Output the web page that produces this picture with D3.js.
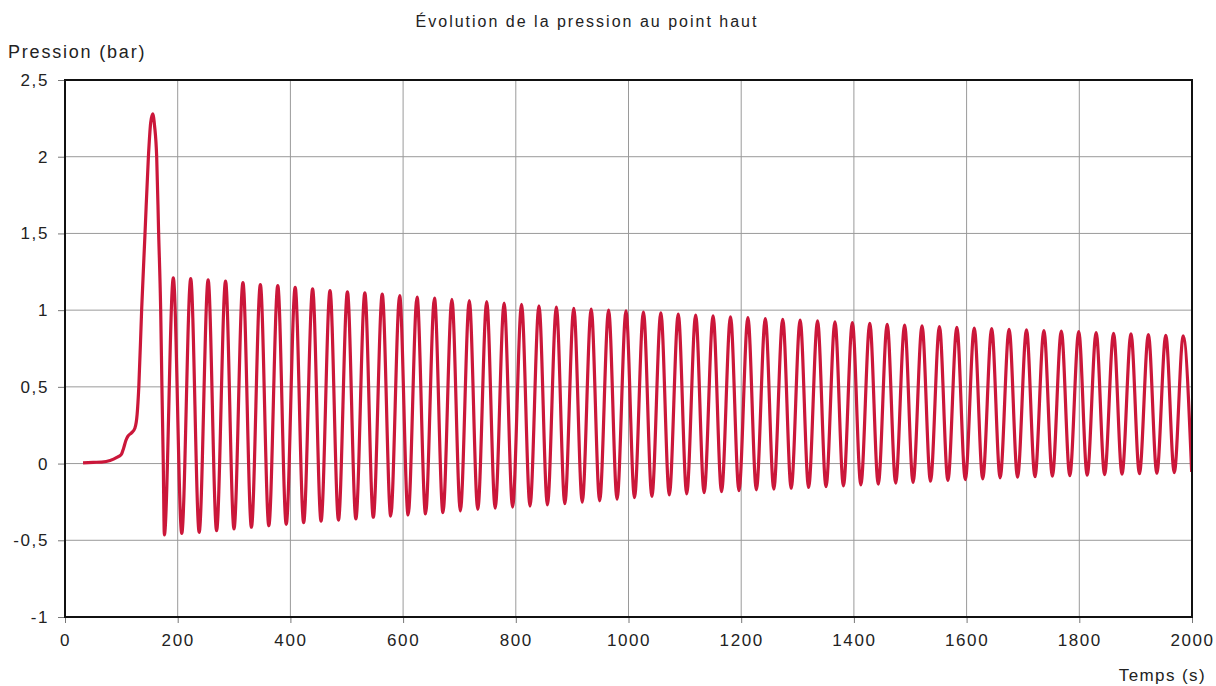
<!DOCTYPE html>
<html>
<head>
<meta charset="utf-8">
<script src="https://cdn.jsdelivr.net/npm/d3@7"></script>
<style>
  body { margin: 0; background: #fff; }
  svg { display: block; }
  text { font-family: "Liberation Sans", Arial, sans-serif; fill: #222; }
</style>
</head>
<body>
<div id="chart"></div>
<script>
// axis ticks
const xTicks = [0, 200, 400, 600, 800, 1000, 1200, 1400, 1600, 1800, 2000];
const yTicks = [-1, -0.5, 0, 0.5, 1, 1.5, 2, 2.5];

// start-up (filling then first surge)
const startTimes = [32, 50, 65, 80, 92, 100, 104, 108, 112, 118, 124, 128, 131, 136, 142, 148, 152, 155.6, 159, 162.7, 166.2, 169.8, 172, 174.4];
const startValues = [0.005, 0.008, 0.01, 0.02, 0.04, 0.06, 0.1, 0.15, 0.18, 0.2, 0.23, 0.32, 0.5, 1.0, 1.5, 2.0, 2.22, 2.28, 2.2, 2.0, 1.5, 1.0, 0.5, 0.0];

// oscillation maxima
const peakTimes = [192.2, 223.1, 254.0, 284.9, 315.8, 346.7, 377.6, 408.5, 439.4, 470.3,
  501.2, 532.1, 563.0, 593.9, 624.8, 655.7, 686.6, 717.5, 748.4, 779.3,
  810.2, 841.1, 872.0, 902.9, 933.8, 964.7, 995.6, 1026.5, 1057.4, 1088.3,
  1119.2, 1150.1, 1181.0, 1211.9, 1242.8, 1273.7, 1304.6, 1335.5, 1366.4, 1397.3,
  1428.2, 1459.1, 1490.0, 1520.9, 1551.8, 1582.7, 1613.6, 1644.5, 1675.4, 1706.3,
  1737.2, 1768.1, 1799.0, 1829.9, 1860.8, 1891.7, 1922.6, 1953.5, 1984.4];
const peakValues = [1.21, 1.205, 1.197, 1.19, 1.179, 1.166, 1.16, 1.149, 1.138, 1.128,
  1.12, 1.113, 1.104, 1.094, 1.085, 1.078, 1.07, 1.062, 1.055, 1.046,
  1.038, 1.028, 1.02, 1.012, 1.006, 1.0, 0.995, 0.988, 0.983, 0.974,
  0.968, 0.962, 0.957, 0.951, 0.945, 0.94, 0.935, 0.93, 0.924, 0.919,
  0.914, 0.908, 0.903, 0.898, 0.893, 0.888, 0.883, 0.879, 0.875, 0.871,
  0.867, 0.864, 0.86, 0.854, 0.849, 0.845, 0.84, 0.836, 0.832];

// oscillation minima
const troughTimes = [176.3, 207.2, 238.1, 269.0, 299.9, 330.8, 361.7, 392.6, 423.5, 454.4,
  485.3, 516.2, 547.1, 578.0, 608.9, 639.8, 670.7, 701.6, 732.5, 763.4,
  794.3, 825.2, 856.1, 887.0, 917.9, 948.8, 979.7, 1010.6, 1041.5, 1072.4,
  1103.3, 1134.2, 1165.1, 1196.0, 1226.9, 1257.8, 1288.7, 1319.6, 1350.5, 1381.4,
  1412.3, 1443.2, 1474.1, 1505.0, 1535.9, 1566.8, 1597.7, 1628.6, 1659.5, 1690.4,
  1721.3, 1752.2, 1783.1, 1814.0, 1844.9, 1875.8, 1906.7, 1937.6, 1968.5, 1999.4];
const troughValues = [-0.465, -0.455, -0.448, -0.437, -0.426, -0.415, -0.405, -0.396, -0.385, -0.375,
  -0.368, -0.36, -0.35, -0.342, -0.335, -0.328, -0.32, -0.308, -0.299, -0.291,
  -0.284, -0.277, -0.27, -0.262, -0.252, -0.243, -0.232, -0.222, -0.214, -0.205,
  -0.197, -0.19, -0.183, -0.177, -0.171, -0.166, -0.161, -0.156, -0.151, -0.145,
  -0.139, -0.134, -0.127, -0.122, -0.115, -0.11, -0.104, -0.1, -0.093, -0.089,
  -0.086, -0.082, -0.079, -0.076, -0.072, -0.069, -0.066, -0.063, -0.059, -0.055];

const width = 1216, height = 686;
const margin = { top: 80, right: 24, bottom: 69, left: 65 };

const svg = d3.select('#chart').append('svg')
  .attr('width', width)
  .attr('height', height);

const x = d3.scaleLinear().domain([0, 2000]).range([margin.left, width - margin.right]);
const y = d3.scaleLinear().domain([-1, 2.5]).range([height - margin.bottom, margin.top]);

const fmt = d => String(d).replace('.', ',');

// grid
const grid = svg.append('g').attr('class', 'grid');
grid.selectAll('line.v')
  .data(xTicks.slice(1, -1))
  .enter().append('line')
  .attr('class', 'v')
  .attr('x1', d => x(d)).attr('x2', d => x(d))
  .attr('y1', y(2.5)).attr('y2', y(-1))
  .attr('stroke', '#9a9a9a').attr('stroke-width', 1);
grid.selectAll('line.h')
  .data(yTicks.slice(1, -1))
  .enter().append('line')
  .attr('class', 'h')
  .attr('x1', x(0)).attr('x2', x(2000))
  .attr('y1', d => y(d)).attr('y2', d => y(d))
  .attr('stroke', '#9a9a9a').attr('stroke-width', 1);

// axes
const xAxis = svg.append('g')
  .attr('transform', 'translate(0,' + y(-1) + ')')
  .call(d3.axisBottom(x).tickValues(xTicks).tickSize(6).tickPadding(11).tickFormat(d => d));
const yAxis = svg.append('g')
  .attr('transform', 'translate(' + x(0) + ',0)')
  .call(d3.axisLeft(y).tickValues(yTicks).tickSize(7).tickPadding(9).tickFormat(fmt));

[xAxis, yAxis].forEach(a => {
  a.select('.domain').remove();
  a.selectAll('.tick line').attr('stroke', '#777');
  a.selectAll('.tick text')
    .attr('font-size', 17)
    .attr('letter-spacing', 1.6)
    .attr('fill', '#222');
});

// data series
const points = [];
startTimes.forEach((t, i) => points.push([t, startValues[i]]));
peakTimes.forEach((t, i) => points.push([t, peakValues[i]]));
troughTimes.forEach((t, i) => points.push([t, troughValues[i]]));
points.sort((a, b) => a[0] - b[0]);

svg.append('clipPath').attr('id', 'plot')
  .append('rect')
  .attr('x', x(0)).attr('y', y(2.5))
  .attr('width', x(2000) - x(0)).attr('height', y(-1) - y(2.5));

const line = d3.line()
  .x(d => x(d[0]))
  .y(d => y(d[1]))
  .curve(d3.curveMonotoneX);

svg.append('path')
  .datum(points)
  .attr('clip-path', 'url(#plot)')
  .attr('fill', 'none')
  .attr('stroke', '#cb173a')
  .attr('stroke-width', 3.2)
  .attr('stroke-linejoin', 'round')
  .attr('d', line);

// frame
svg.append('rect')
  .attr('x', x(0)).attr('y', y(2.5))
  .attr('width', x(2000) - x(0)).attr('height', y(-1) - y(2.5))
  .attr('fill', 'none')
  .attr('stroke', '#111')
  .attr('stroke-width', 2);

// labels
svg.append('text')
  .attr('x', 587).attr('y', 27)
  .attr('text-anchor', 'middle')
  .attr('font-size', 16)
  .attr('letter-spacing', 2)
  .text('Évolution de la pression au point haut');

svg.append('text')
  .attr('x', 8).attr('y', 58)
  .attr('font-size', 18)
  .attr('letter-spacing', 1.8)
  .text('Pression (bar)');

svg.append('text')
  .attr('x', 1206).attr('y', 681)
  .attr('text-anchor', 'end')
  .attr('font-size', 17)
  .attr('letter-spacing', 1.4)
  .text('Temps (s)');
</script>
</body>
</html>
